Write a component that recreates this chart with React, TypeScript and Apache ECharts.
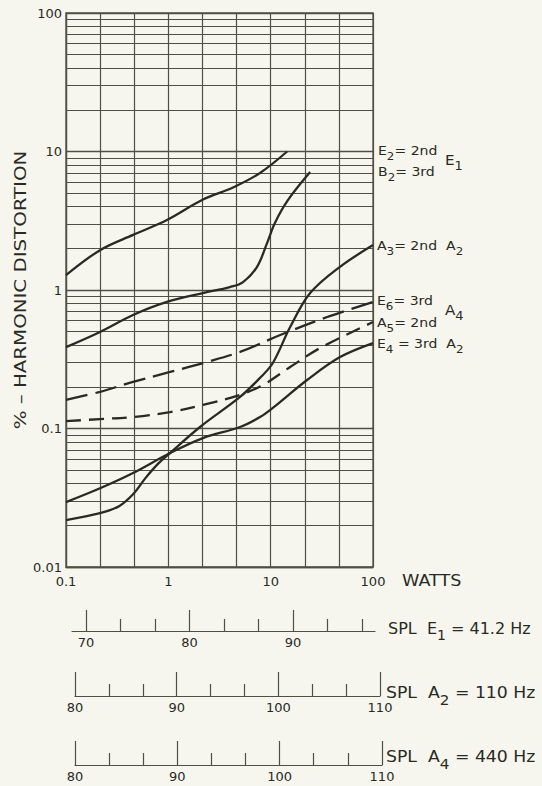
import React, { useEffect, useRef } from 'react';
import * as echarts from 'echarts';

// ---- data ----
const xTickLabels = ['0.1', '1', '10', '100'];
const yTickLabels = ['0.01', '0.1', '1', '10', '100'];
const yMinorGrid = [
  0.02, 0.03, 0.04, 0.05, 0.06, 0.07, 0.08, 0.09,
  0.2, 0.3, 0.4, 0.5, 0.6, 0.7, 0.8, 0.9,
  2, 3, 4, 5, 6, 7, 8, 9,
  20, 30, 40, 50, 60, 70, 80, 90,
];

// E1 = 41.2 Hz : E2 = 2nd harmonic
const e1SecondWatts = [0.1, 0.215, 0.452, 0.97, 2.18, 4.29, 7.87, 14.5];
const e1SecondPct = [1.28, 1.94, 2.5, 3.2, 4.5, 5.5, 7.0, 10];
// E1 : B2 = 3rd harmonic
const e1ThirdWatts = [0.1, 0.215, 0.452, 0.97, 2.18, 4.0, 5.37, 7.36, 9.22, 11.0, 14.8, 24.3];
const e1ThirdPct = [0.387, 0.498, 0.66, 0.82, 0.95, 1.05, 1.14, 1.47, 2.18, 3.05, 4.47, 7.1];
// A2 = 110 Hz : A3 = 2nd
const a2SecondWatts = [0.1, 0.215, 0.33, 0.452, 0.6, 0.8, 1.04, 2.04, 5.02, 7.87, 10.5, 15.5, 24.3, 47.6, 100];
const a2SecondPct = [0.0218, 0.0245, 0.0275, 0.0335, 0.044, 0.056, 0.0665, 0.1025, 0.169, 0.232, 0.297, 0.54, 0.95, 1.47, 2.11];
// A2 : E4 = 3rd
const a2ThirdWatts = [0.1, 0.215, 0.452, 1.04, 2.18, 5.02, 7.87, 10.5, 22.7, 47.6, 100];
const a2ThirdPct = [0.0294, 0.037, 0.0477, 0.0665, 0.0853, 0.1025, 0.121, 0.141, 0.224, 0.328, 0.414];
// A4 = 440 Hz : E6 = 3rd (dashed)
const a4ThirdWatts = [0.1, 0.215, 0.452, 1.04, 2.18, 5.02, 12.4, 35.6, 100];
const a4ThirdPct = [0.161, 0.184, 0.217, 0.256, 0.297, 0.357, 0.473, 0.638, 0.82];
// A4 : A5 = 2nd (dashed)
const a4SecondWatts = [0.1, 0.215, 0.452, 1.04, 2.18, 5.02, 8.4, 15.5, 30.4, 100];
const a4SecondPct = [0.113, 0.117, 0.121, 0.1315, 0.148, 0.175, 0.206, 0.278, 0.381, 0.587];

// SPL scales (dB)
const splE1Range = [68.65, 97.92];
const splE1Major = [70, 80, 90];
const splE1Minor = [73.33, 76.67, 83.33, 86.67, 93.33, 96.67];
const splA2Range = [80, 110];
const splA4Range = [80, 110];
const splMajor = [80, 90, 100, 110];
const splMinor = [83.33, 86.67, 93.33, 96.67, 103.33, 106.67];

const FONT = 'DejaVu Sans';
const INK = '#2a2a24';
const GREY = '#66665e';
const GRID = '#4f4f44';
const BG = '#f6f6ef';

const pairs = (xs: number[], ys: number[]) => xs.map((x, i) => [x, ys[i]]);

export default function App() {
  const ref = useRef<HTMLDivElement>(null);
  useEffect(() => {
    if (!ref.current) return;
    const chart = echarts.init(ref.current, undefined, { renderer: 'svg' });

    const decadeFmt = (labels: string[], offset: number) => (v: number) => {
      const l = Math.log10(v);
      const r = Math.round(l);
      return Math.abs(l - r) < 1e-6 ? labels[r + offset] ?? '' : '';
    };

    const lineSeries = (name: string, xs: number[], ys: number[], dash: any, extra: any = {}) => ({
      name,
      type: 'line',
      xAxisIndex: 0,
      yAxisIndex: 0,
      data: pairs(xs, ys),
      smooth: 0.35,
      showSymbol: false,
      symbol: 'none',
      silent: true,
      lineStyle: { color: INK, width: 2.3, type: dash, cap: 'butt' },
      z: 5,
      ...extra,
    });

    const splAxisCommon = {
      type: 'value',
      position: 'bottom',
      splitLine: { show: false },
      axisLine: { show: true, lineStyle: { color: GRID, width: 1.2 } },
    };
    const majorAxis = (gridIndex: number, range: number[], major: number[], len: number) => ({
      ...splAxisCommon,
      gridIndex,
      min: range[0],
      max: range[1],
      axisTick: { show: true, inside: true, length: len, customValues: major, lineStyle: { color: GRID, width: 1.2 } },
      axisLabel: { show: true, customValues: major, margin: 5, color: INK, fontSize: 13, fontFamily: FONT },
    });
    const minorAxis = (gridIndex: number, range: number[], minor: number[]) => ({
      ...splAxisCommon,
      gridIndex,
      min: range[0],
      max: range[1],
      axisLine: { show: false },
      axisTick: { show: true, inside: true, length: 12, customValues: minor, lineStyle: { color: GRID, width: 1.2 } },
      axisLabel: { show: false },
    });

    const rich = {
      b: { fontFamily: FONT, fontSize: 13, color: INK, lineHeight: 24, verticalAlign: 'middle' },
      g: { fontFamily: FONT, fontSize: 13, color: GREY, lineHeight: 24, verticalAlign: 'middle' },
      s: { fontFamily: FONT, fontSize: 11, color: INK, lineHeight: 12, verticalAlign: 'bottom' },
      sg: { fontFamily: FONT, fontSize: 11, color: GREY, lineHeight: 12, verticalAlign: 'bottom' },
      G: { fontFamily: FONT, fontSize: 14, color: GREY, lineHeight: 24, verticalAlign: 'middle' },
      SG: { fontFamily: FONT, fontSize: 12, color: GREY, lineHeight: 12, verticalAlign: 'bottom' },
      B: { fontFamily: FONT, fontSize: 16, color: INK, lineHeight: 28, verticalAlign: 'middle' },
      S: { fontFamily: FONT, fontSize: 14, color: INK, lineHeight: 14, verticalAlign: 'bottom' },
    };
    const txt = (x: number, y: number, text: string, sx = 1.08, extra: any = {}) => ({
      type: 'text',
      x,
      y,
      scaleX: sx,
      silent: true,
      style: {
        text,
        fontFamily: FONT,
        fontSize: 13,
        fill: INK,
        align: 'left',
        verticalAlign: 'middle',
        rich,
        ...extra,
      },
    });

    chart.setOption({
      animation: false,
      backgroundColor: BG,
      grid: [
        { left: 66, top: 13, width: 307, height: 554, show: true, borderColor: GRID, borderWidth: 1.3, backgroundColor: 'transparent' },
        { left: 72, top: 601, width: 303, height: 30 },
        { left: 75, top: 666, width: 305, height: 30 },
        { left: 75, top: 735, width: 307, height: 30 },
      ],
      xAxis: [
        {
          type: 'log',
          gridIndex: 0,
          logBase: Math.cbrt(10),
          min: 0.1,
          max: 100,
          splitNumber: 9,
          axisLine: { show: true, lineStyle: { color: GRID, width: 1.3 } },
          axisTick: { show: false },
          splitLine: { show: true, lineStyle: { color: GRID, width: 1.2 } },
          axisLabel: {
            interval: 0,
            margin: 8,
            color: INK,
            fontSize: 13,
            fontFamily: FONT,
            formatter: decadeFmt(xTickLabels, 1),
          },
        },
        majorAxis(1, splE1Range, splE1Major, 21),
        minorAxis(1, splE1Range, splE1Minor),
        majorAxis(2, splA2Range, splMajor, 24),
        minorAxis(2, splA2Range, splMinor),
        majorAxis(3, splA4Range, splMajor, 24),
        minorAxis(3, splA4Range, splMinor),
      ],
      yAxis: [
        {
          type: 'log',
          gridIndex: 0,
          logBase: 10,
          min: 0.01,
          max: 100,
          axisLine: { show: true, lineStyle: { color: GRID, width: 1.3 } },
          axisTick: { show: false },
          splitLine: { show: true, lineStyle: { color: GRID, width: 1.3 } },
          axisLabel: {
            interval: 0,
            margin: 4,
            color: INK,
            fontSize: 13,
            fontFamily: FONT,
            formatter: decadeFmt(yTickLabels, 2),
          },
        },
        { type: 'value', gridIndex: 1, show: false },
        { type: 'value', gridIndex: 2, show: false },
        { type: 'value', gridIndex: 3, show: false },
      ],
      series: [
        lineSeries('E2 = 2nd (E1)', e1SecondWatts, e1SecondPct, 'solid', {
          markLine: {
            silent: true,
            symbol: ['none', 'none'],
            label: { show: false },
            lineStyle: { color: GRID, width: 1.1, type: 'solid' },
            emphasis: { disabled: true },
            data: yMinorGrid.map((v) => ({ yAxis: v })),
            z: 1,
          },
        }),
        lineSeries('B2 = 3rd (E1)', e1ThirdWatts, e1ThirdPct, 'solid'),
        lineSeries('A3 = 2nd (A2)', a2SecondWatts, a2SecondPct, 'solid'),
        lineSeries('E4 = 3rd (A2)', a2ThirdWatts, a2ThirdPct, 'solid'),
        lineSeries('E6 = 3rd (A4)', a4ThirdWatts, a4ThirdPct, [22, 8]),
        lineSeries('A5 = 2nd (A4)', a4SecondWatts, a4SecondPct, [15, 8]),
      ],
      graphic: [
        {
          type: 'text',
          x: 21,
          y: 290,
          rotation: Math.PI / 2,
          scaleX: 1.32,
          silent: true,
          style: {
            text: '% – HARMONIC DISTORTION',
            fontFamily: FONT,
            fontSize: 15,
            fill: INK,
            align: 'center',
            verticalAlign: 'middle',
          },
        },
        txt(402, 580, 'WATTS', 1.1, { fontSize: 16 }),
        txt(378, 150, '{b|E}{s|2}{b|= 2nd}'),
        txt(378, 171, '{b|B}{s|2}{b|= 3rd}'),
        txt(445, 160, '{G|E}{SG|1}'),
        txt(377, 245, '{g|A}{sg|3}{b|= 2nd  }{g|A}{sg|2}'),
        txt(377, 300, '{b|E}{s|6}{b|= 3rd}'),
        txt(445, 310, '{G|A}{SG|4}'),
        txt(377, 322, '{b|A}{s|5}{b|= 2nd}'),
        txt(377, 343, '{b|E}{s|4}{b| = 3rd  A}{s|2}'),
        txt(388, 628, '{B|SPL  E}{S|1}{B| = 41.2 Hz}', 1.0),
        txt(386, 693, '{B|SPL  A}{S|2}{B| = 110 Hz}', 1.08),
        txt(386, 757, '{B|SPL  A}{S|4}{B| = 440 Hz}', 1.08),
      ],
    });
    return () => chart.dispose();
  }, []);
  return <div ref={ref} style={{ position: 'absolute', left: 0, top: 0, width: 542, height: 786 }} />;
}
